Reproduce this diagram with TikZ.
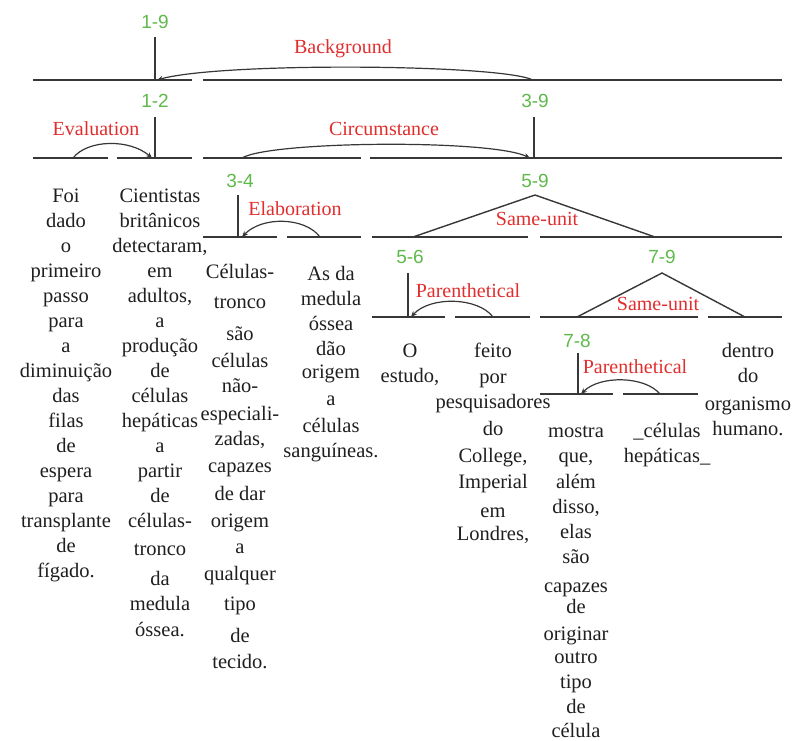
\documentclass[tikz,border=0pt]{standalone}
\usepackage{fontspec}
\newfontfamily\serifw{LiberationSerif-Regular.ttf}
\newfontfamily\spanfont{Liberation Sans}
\usetikzlibrary{arrows.meta}
\definecolor{spangreen}{RGB}{95,185,75}
\definecolor{relred}{RGB}{225,45,45}
\definecolor{linegray}{RGB}{55,55,55}
\tikzset{
  seg/.style={draw=linegray, line width=1.8pt},
  nucl/.style={draw=linegray, line width=1.6pt},
  rel/.style={draw=linegray, line width=1.2pt, -{Stealth[length=6pt,width=5pt]}},
  tri/.style={draw=linegray, line width=1.4pt},
  spanlab/.style={text=spangreen, font=\spanfont\fontsize{19}{22}\selectfont, inner sep=0pt, anchor=base},
  rname/.style={text=relred, font=\serifw\fontsize{20}{24}\selectfont, inner sep=0pt, anchor=base},
  word/.style={text=black!88, font=\serifw\fontsize{20.5}{25}\selectfont, inner sep=0pt, anchor=base},
}
\newcommand\hseg[4]{\coordinate (#1-l) at (#2,#4); \coordinate (#1-r) at (#3,#4); \draw[seg] (#1-l) -- (#1-r);}
\begin{document}
\begin{tikzpicture}[x=1pt,y=-1pt]
\useasboundingbox (0,0) rectangle (795,740);
% horizontal segments
\hseg{s1}{33}{192}{80}
\hseg{s2}{203}{782}{80}
\hseg{e1}{33}{108}{158}
\hseg{e2}{117}{192}{158}
\hseg{c1}{203}{361}{158}
\hseg{c2}{370}{782}{158}
\hseg{a1}{203}{277}{237}
\hseg{a2}{287}{361}{237}
\hseg{b1}{372}{528}{237}
\hseg{b2}{540}{782}{237}
\hseg{p1}{372}{445}{317}
\hseg{p2}{455}{530}{317}
\hseg{q1}{540}{698}{317}
\hseg{q2}{708}{782}{317}
\hseg{r1}{540}{613}{394}
\hseg{r2}{623}{698}{394}
% nucleus verticals
\coordinate (n19t) at (155,37);  \coordinate (n19b) at (155,80);
\coordinate (n12t) at (155,117); \coordinate (n12b) at (155,158);
\coordinate (n39t) at (534,117); \coordinate (n39b) at (534,158);
\coordinate (n34t) at (238,195); \coordinate (n34b) at (238,237);
\coordinate (n56t) at (408,273); \coordinate (n56b) at (408,317);
\coordinate (n78t) at (578,353); \coordinate (n78b) at (578,394);
\draw[nucl] (n19t) -- (n19b);
\draw[nucl] (n12t) -- (n12b);
\draw[nucl] (n39t) -- (n39b);
\draw[nucl] (n34t) -- (n34b);
\draw[nucl] (n56t) -- (n56b);
\draw[nucl] (n78t) -- (n78b);
% multinuclear triangles
\coordinate (t59l) at (413,237); \coordinate (t59p) at (535,195); \coordinate (t59r) at (655,237);
\coordinate (t79l) at (577,317); \coordinate (t79p) at (662,273); \coordinate (t79r) at (745,317);
\draw[tri] (t59l) -- (t59p) -- (t59r);
\draw[tri] (t79l) -- (t79p) -- (t79r);
% relation arcs
\coordinate (bgA) at (533,80);  \coordinate (bgB) at (157,80);
\coordinate (evA) at (73,158);  \coordinate (evB) at (152,158);
\coordinate (ciA) at (242,158); \coordinate (ciB) at (530,158);
\coordinate (elA) at (320,237); \coordinate (elB) at (242,237);
\coordinate (paA) at (493,317); \coordinate (paB) at (411,317);
\coordinate (pbA) at (660,394); \coordinate (pbB) at (581,394);
\draw[rel] (bgA) .. controls (500,64) and (220,62) .. (bgB);
\draw[rel] (evA) .. controls (88,139) and (130,139) .. (evB);
\draw[rel] (ciA) .. controls (270,141) and (490,139) .. (ciB);
\draw[rel] (elA) .. controls (305,217) and (262,216) .. (elB);
\draw[rel] (paA) .. controls (478,297) and (430,296) .. (paB);
\draw[rel] (pbA) .. controls (645,376) and (600,375) .. (pbB);
% span labels
\node[spanlab] (L19) at (155,28) {1-9};
\node[spanlab] (L12) at (155,107) {1-2};
\node[spanlab] (L39) at (535,107) {3-9};
\node[spanlab] (L34) at (240,187) {3-4};
\node[spanlab] (L59) at (535,187) {5-9};
\node[spanlab] (L56) at (410,263) {5-6};
\node[spanlab] (L79) at (662,263) {7-9};
\node[spanlab] (L78) at (577,347) {7-8};
% relation names
\node[rname] (Rbg) at (343,53) {Background};
\node[rname] (Rev) at (96,135) {Evaluation};
\node[rname] (Rci) at (384,135) {Circumstance};
\node[rname] (Rel) at (295,215) {Elaboration};
\node[rname] (Rsu1) at (537,225) {Same-unit};
\node[rname] (Rpa1) at (468,297) {Parenthetical};
\node[rname] (Rsu2) at (658,310) {Same-unit};
\node[rname] (Rpa2) at (635,373) {Parenthetical};
% leaves
\foreach \y/\w [count=\i] in {202/Foi,227/dado,252/o,277/primeiro,302/passo,327/para,352/a,377/diminuição,402/das,427/filas,452/de,477/espera,502/para,527/transplante,552/de,577/{fígado.}}
  \node[word] (wA-\i) at (66,\y) {\w};
\foreach \y/\w [count=\i] in {202/Cientistas,227/britânicos,252/{detectaram,},277/em,302/{adultos,},327/a,352/produção,377/de,402/células,427/hepáticas,452/a,477/partir,502/de,527/células-,555/tronco,585/da,610/medula,636/{óssea.}}
  \node[word] (wB-\i) at (160,\y) {\w};
\foreach \y/\w [count=\i] in {278/Células-,308/tronco,340/são,367/células,392/não-,420/especiali-,445/{zadas,},472/capazes,500/de dar,527/origem,553/a,580/qualquer,610/tipo,642/de,668/{tecido.}}
  \node[word] (wC-\i) at (240,\y) {\w};
\foreach \y/\w [count=\i] in {280/As da,305/medula,330/óssea,355/dão,378/origem,405/a,432/células,457/{sanguíneas.}}
  \node[word] (wD-\i) at (331,\y) {\w};
\foreach \y/\w [count=\i] in {357/O,382/{estudo,}}
  \node[word] (wE-\i) at (410,\y) {\w};
\foreach \y/\w [count=\i] in {357/feito,383/por,408/pesquisadores,435/do,462/{College,},488/Imperial,517/em,540/{Londres,}}
  \node[word] (wF-\i) at (493,\y) {\w};
\foreach \y/\w [count=\i] in {437/mostra,462/{que,},488/além,513/{disso,},538/elas,563/são,592/capazes,613/de,640/originar,663/outro,688/tipo,713/de,737/célula}
  \node[word] (wG-\i) at (576,\y) {\w};
\foreach \y/\w [count=\i] in {437/{\_células},462/{hepáticas\_}}
  \node[word] (wH-\i) at (667,\y) {\w};
\foreach \y/\w [count=\i] in {357/dentro,382/do,410/organismo,435/{humano.}}
  \node[word] (wI-\i) at (748,\y) {\w};
\end{tikzpicture}
\end{document}
